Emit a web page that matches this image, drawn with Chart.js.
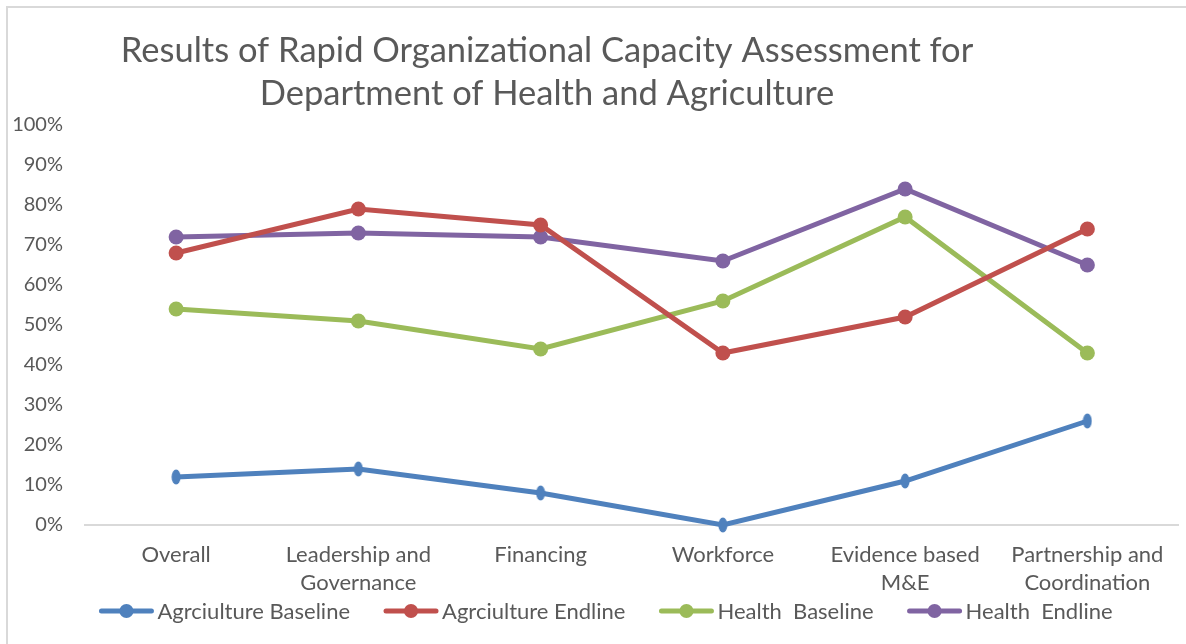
<!DOCTYPE html>
<html>
<head>
<meta charset="utf-8">
<script src="https://cdn.jsdelivr.net/npm/chart.js@4.4.1/dist/chart.umd.min.js"></script>
<style>
  html, body { margin: 0; padding: 0; background: #ffffff; }
  #wrap { width: 1186px; height: 644px; position: relative; }
</style>
</head>
<body>
<div id="wrap"><canvas id="chart" width="1186" height="644"></canvas></div>
<script>
// Assessment areas (x axis)
const categories = [
  'Overall',
  ['Leadership and', 'Governance'],
  'Financing',
  'Workforce',
  ['Evidence based', 'M&E'],
  ['Partnership and', 'Coordination']
];

// Scores in percent
const agricultureBaseline = [12, 14, 8, 0, 11, 26];
const agricultureEndline  = [68, 79, 75, 43, 52, 74];
const healthBaseline      = [54, 51, 44, 56, 77, 43];
const healthEndline       = [72, 73, 72, 66, 84, 65];

const seriesNames = ['Agrciulture Baseline', 'Agrciulture Endline', 'Health  Baseline', 'Health  Endline'];
const yTicks = [0, 10, 20, 30, 40, 50, 60, 70, 80, 90, 100];

const titleLines = ['Results of Rapid Organizational Capacity Assessment for', 'Department of Health and Agriculture'];

const FONT = 'Lato, "Open Sans", sans-serif';
const TEXT = '#595959';
const COLORS = ['#4F81BD', '#C0504D', '#9BBB59', '#8064A2'];

// narrow oval marker used by the first series
function ovalMarker(color) {
  const c = document.createElement('canvas');
  c.width = 10; c.height = 16;
  const g = c.getContext('2d');
  g.fillStyle = color;
  g.beginPath();
  g.ellipse(5, 8, 4.5, 7.5, 0, 0, Math.PI * 2);
  g.fill();
  return c;
}

function series(label, data, color, pointStyle) {
  return {
    label, data,
    borderColor: color,
    backgroundColor: color,
    borderWidth: 5,
    pointRadius: 7.5,
    pointHoverRadius: 7.5,
    pointBorderWidth: 0,
    pointStyle: pointStyle || 'circle',
    tension: 0,
    clip: false
  };
}

// outer frame, title and legend
const decor = {
  id: 'decor',
  afterDraw(chart) {
    const ctx = chart.ctx;
    ctx.save();
    ctx.strokeStyle = '#d9d9d9';
    ctx.lineWidth = 2;
    ctx.beginPath();
    ctx.moveTo(7, 644);
    ctx.lineTo(7, 7);
    ctx.lineTo(1186, 7);
    ctx.stroke();

    ctx.fillStyle = TEXT;
    ctx.font = '34.5px ' + FONT;
    ctx.textAlign = 'center';
    ctx.textBaseline = 'alphabetic';
    ctx.fillText(titleLines[0], 547, 62);
    ctx.fillText(titleLines[1], 547, 105);

    // legend
    ctx.font = '22px ' + FONT;
    ctx.textAlign = 'left';
    ctx.textBaseline = 'middle';
    const lineW = 54, gapText = 4, gapItem = 34, ly = 611;
    const ds = chart.data.datasets;
    const widths = ds.map(d => lineW + gapText + ctx.measureText(d.label).width);
    const total = widths.reduce((a, b) => a + b, 0) + gapItem * (ds.length - 1);
    let x = 606 - total / 2;
    ds.forEach((d, i) => {
      ctx.strokeStyle = d.borderColor;
      ctx.fillStyle = d.borderColor;
      ctx.lineWidth = 5;
      ctx.lineCap = 'round';
      ctx.beginPath();
      ctx.moveTo(x + 2, ly);
      ctx.lineTo(x + lineW - 2, ly);
      ctx.stroke();
      ctx.beginPath();
      ctx.arc(x + lineW / 2, ly, 7, 0, Math.PI * 2);
      ctx.fill();
      ctx.fillStyle = TEXT;
      ctx.fillText(d.label, x + lineW + gapText, ly + 1);
      x += widths[i] + gapItem;
    });
    ctx.restore();
  }
};

new Chart(document.getElementById('chart'), {
  type: 'line',
  data: {
    labels: categories,
    datasets: [
      series(seriesNames[0], agricultureBaseline, COLORS[0], ovalMarker(COLORS[0])),
      series(seriesNames[1], agricultureEndline, COLORS[1]),
      series(seriesNames[2], healthBaseline, COLORS[2]),
      series(seriesNames[3], healthEndline, COLORS[3])
    ]
  },
  options: {
    responsive: false,
    animation: false,
    events: [],
    layout: { padding: { top: 125, right: 1, bottom: 0, left: 0 } },
    plugins: {
      legend: { display: false },
      title: { display: false },
      tooltip: { enabled: false }
    },
    scales: {
      x: {
        offset: true,
        grid: { display: false, drawTicks: false },
        border: { display: true, color: '#d9d9d9', width: 2 },
        ticks: {
          color: TEXT,
          font: { family: FONT, size: 22, lineHeight: 1.28 },
          padding: 16,
          maxRotation: 0,
          autoSkip: false
        },
        afterFit(scale) { scale.height = 119; }
      },
      y: {
        min: 0,
        max: 100,
        afterBuildTicks(scale) { scale.ticks = yTicks.map(v => ({ value: v })); },
        grid: { display: false, drawTicks: false },
        border: { display: false },
        ticks: {
          color: TEXT,
          font: { family: FONT, size: 20 },
          padding: 22,
          callback: v => v + '%'
        },
        afterFit(scale) { scale.width = 85; }
      }
    }
  },
  plugins: [decor]
});
</script>
</body>
</html>
